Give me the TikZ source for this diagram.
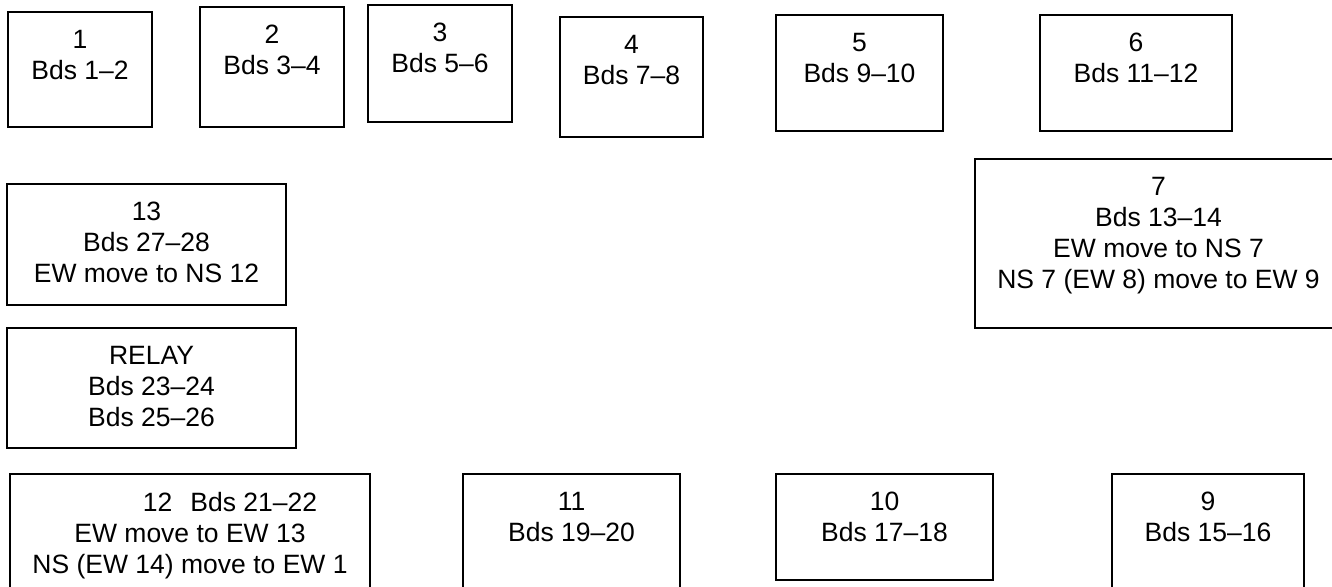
\documentclass[tikz,border=0pt]{standalone}
\usepackage{fontspec}
\setmainfont{Liberation Sans}
\begin{document}
\begin{tikzpicture}[x=1pt,y=-1pt,
  pane/.style={draw=black, line width=1.8pt, inner sep=0pt, outer sep=0pt},
  caption/.style={anchor=north, inner sep=0pt, outer sep=0pt, align=center,
    font=\fontsize{26.5}{31}\selectfont}]
% frame of the whole layout
\clip (0,0) rectangle (1332,586);
% \roombox{name}{left}{top}{right}{bottom}{text}
\newcommand\roombox[6]{%
  \node[pane, minimum width={(#4-#2)*1pt}, minimum height={(#5-#3)*1pt}]
    (#1) at ({(#2+#4)/2},{(#3+#5)/2}) {};
  \node[caption] (#1-text) at ([yshift=-18pt]#1.north) {#6};
}
% top row
\roombox{t1}{8}{12}{152}{127}{1\\Bds 1--2}
\roombox{t2}{200}{7}{344}{127}{2\\Bds 3--4}
\roombox{t3}{368}{5}{512}{122}{3\\Bds 5--6}
\roombox{t4}{560}{17}{703}{137}{4\\Bds 7--8}
\roombox{t5}{776}{15}{943}{131}{5\\Bds 9--10}
\roombox{t6}{1040}{15}{1232}{131}{6\\Bds 11--12}
% right side, running past the edge
\roombox{t7}{975}{159}{1342}{328}{7\\Bds 13--14\\EW move to NS 7\\NS 7 (EW 8) move to EW 9}
% left side
\roombox{t13}{7}{184}{286}{305}{13\\Bds 27--28\\EW move to NS 12}
\roombox{relay}{7}{328}{296}{448}{RELAY\\Bds 23--24\\Bds 25--26}
% bottom row
\roombox{t12}{10}{474}{370}{600}{\hspace*{80pt}12\hspace{18pt}Bds 21--22\\EW move to EW 13\\NS (EW 14) move to EW 1}
\roombox{t11}{463}{474}{680}{600}{11\\Bds 19--20}
\roombox{t10}{776}{474}{993}{580}{10\\Bds 17--18}
\roombox{t9}{1112}{474}{1304}{600}{9\\Bds 15--16}
\end{tikzpicture}
\end{document}
